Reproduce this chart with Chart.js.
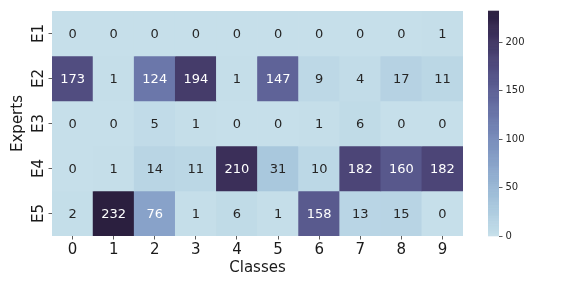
<!DOCTYPE html>
<html>
<head>
<meta charset="utf-8">
<script src="https://cdn.jsdelivr.net/npm/chart.js@4.4.0/dist/chart.umd.min.js"></script>
<style>
    html, body { margin: 0; padding: 0; background: #fff; }
    #wrap { width: 576px; height: 288px; }
</style>
</head>
<body>
<div id="wrap"><canvas id="heatmap"></canvas></div>
<script>
// Data
var classLabels = ['0', '1', '2', '3', '4', '5', '6', '7', '8', '9'];
var expertLabels = ['E1', 'E2', 'E3', 'E4', 'E5'];
var e1 = [0, 0, 0, 0, 0, 0, 0, 0, 0, 1];
var e2 = [173, 1, 124, 194, 1, 147, 9, 4, 17, 11];
var e3 = [0, 0, 5, 1, 0, 0, 1, 6, 0, 0];
var e4 = [0, 1, 14, 11, 210, 31, 10, 182, 160, 182];
var e5 = [2, 232, 76, 1, 6, 1, 158, 13, 15, 0];
var colorbarTicks = [0, 50, 100, 150, 200];
var vmin = 0;
var vmax = 232;

var rows = [e1, e2, e3, e4, e5];
var FONT = "'DejaVu Sans', sans-serif";

// cubehelix colormap (light -> dark)
function cubehelix(v) {
    var t = Math.min(1, Math.max(0, (v - vmin) / (vmax - vmin)));
    var x = 0.85 + (0.15 - 0.85) * t;
    var start = 0.26, rot = -0.26, hue = 0.8;
    var a = hue * x * (1 - x) / 2;
    var phi = 2 * Math.PI * (start / 3 + rot * x);
    var c = Math.cos(phi), s = Math.sin(phi);
    var r = x + a * (-0.14861 * c + 1.78277 * s);
    var g = x + a * (-0.29227 * c - 0.90649 * s);
    var b = x + a * (1.97294 * c);
    var clip = function(k) { return Math.round(Math.min(1, Math.max(0, k)) * 255); };
    return [clip(r), clip(g), clip(b)];
}

function rgbString(rgb) {
    return 'rgb(' + rgb[0] + ',' + rgb[1] + ',' + rgb[2] + ')';
}

function luminance(rgb) {
    var lin = rgb.map(function(k) {
        k = k / 255;
        return k <= 0.03928 ? k / 12.92 : Math.pow((k + 0.055) / 1.055, 2.4);
    });
    return 0.2126 * lin[0] + 0.7152 * lin[1] + 0.0722 * lin[2];
}

var datasets = rows.map(function(row, i) {
    return {
        label: expertLabels[i],
        data: row.map(function() { return [i, i + 1]; }),
        backgroundColor: row.map(function(v) { return rgbString(cubehelix(v)); }),
        borderWidth: 0,
        grouped: false,
        categoryPercentage: 1,
        barPercentage: 1
    };
});

// numbers inside the cells
var cellText = {
    id: 'cellText',
    afterDatasetsDraw: function(chart) {
        var ctx = chart.ctx;
        var xs = chart.scales.x, ys = chart.scales.y;
        ctx.save();
        ctx.font = '13px ' + FONT;
        ctx.textAlign = 'center';
        ctx.textBaseline = 'middle';
        rows.forEach(function(row, i) {
            row.forEach(function(v, j) {
                ctx.fillStyle = luminance(cubehelix(v)) > 0.408 ? '#262626' : '#ffffff';
                ctx.fillText(String(v), xs.getPixelForValue(j), ys.getPixelForValue(i + 0.5) + 1);
            });
        });
        ctx.restore();
    }
};

// rotated expert labels on the left
var expertText = {
    id: 'expertText',
    afterDraw: function(chart) {
        var ctx = chart.ctx;
        var ys = chart.scales.y;
        ctx.save();
        ctx.font = '15px ' + FONT;
        ctx.fillStyle = '#1a1a1a';
        ctx.textAlign = 'center';
        ctx.textBaseline = 'alphabetic';
        expertLabels.forEach(function(lab, i) {
            ctx.save();
            ctx.translate(43, ys.getPixelForValue(i + 0.5));
            ctx.rotate(-Math.PI / 2);
            ctx.fillText(lab, 0, 0);
            ctx.restore();
        });
        ctx.restore();
    }
};

// colour bar strip next to the cb axis
var colorbar = {
    id: 'colorbar',
    afterDraw: function(chart) {
        var ctx = chart.ctx;
        var cb = chart.scales.cb;
        var w = 11;
        ctx.save();
        for (var v = vmin; v < vmax; v += 0.5) {
            var y0 = cb.getPixelForValue(v);
            var y1 = cb.getPixelForValue(Math.min(vmax, v + 0.5));
            ctx.fillStyle = rgbString(cubehelix(v + 0.25));
            ctx.fillRect(cb.left - w, y1 - 0.3, w, y0 - y1 + 0.6);
        }
        ctx.restore();
    }
};

new Chart(document.getElementById('heatmap'), {
    type: 'bar',
    data: {
        labels: classLabels,
        datasets: datasets
    },
    options: {
        responsive: true,
        maintainAspectRatio: false,
        animation: false,
        layout: { padding: { left: 0, top: 11, right: 37, bottom: 0 } },
        plugins: {
            legend: { display: false },
            tooltip: { enabled: false }
        },
        scales: {
            x: {
                type: 'category',
                offset: true,
                border: { display: false },
                grid: { offset: false, drawOnChartArea: false, drawTicks: true, tickLength: 3.5, color: '#333', lineWidth: 0.8 },
                ticks: { color: '#1a1a1a', font: { family: FONT, size: 15 }, padding: 2, maxRotation: 0 },
                title: { display: true, text: 'Classes', color: '#1a1a1a', font: { family: FONT, size: 15 }, padding: { top: 11, bottom: 11 } },
                afterFit: function(s) { s.height = 52; }
            },
            y: {
                type: 'linear',
                min: 0,
                max: expertLabels.length,
                reverse: true,
                position: 'left',
                border: { display: false },
                grid: { drawOnChartArea: false, drawTicks: true, tickLength: 3.5, color: '#333', lineWidth: 0.8 },
                ticks: { display: false },
                afterBuildTicks: function(s) {
                    s.ticks = expertLabels.map(function(_, i) { return { value: i + 0.5 }; });
                },
                title: { display: true, text: 'Experts', color: '#1a1a1a', font: { family: FONT, size: 15 }, padding: { top: 9, bottom: 9 } },
                afterFit: function(s) { s.width = 52; }
            },
            gap: {
                type: 'linear',
                position: 'right',
                weight: 0,
                min: 0,
                max: 1,
                border: { display: false },
                grid: { display: false },
                ticks: { display: false },
                afterFit: function(s) { s.width = 36; }
            },
            cb: {
                type: 'linear',
                position: 'right',
                weight: 1,
                min: vmin,
                max: vmax,
                border: { display: false },
                grid: { drawOnChartArea: false, drawTicks: true, tickLength: 3.5, color: '#333', lineWidth: 0.8 },
                afterBuildTicks: function(s) {
                    s.ticks = colorbarTicks.map(function(v) { return { value: v }; });
                },
                ticks: { color: '#262626', font: { family: FONT, size: 10 }, padding: 3 },
                afterFit: function(s) { s.width = 40; }
            }
        }
    },
    plugins: [cellText, expertText, colorbar]
});
</script>
</body>
</html>
